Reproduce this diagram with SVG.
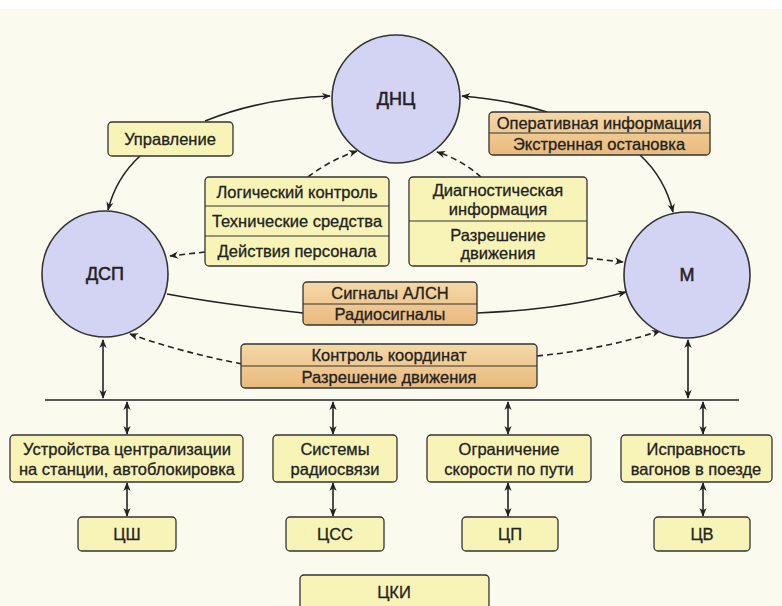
<svg xmlns="http://www.w3.org/2000/svg" width="782" height="606" viewBox="0 0 782 606">
<defs>
<marker id="ah" viewBox="0 0 10 10" refX="9" refY="5" markerWidth="10" markerHeight="9" orient="auto-start-reverse" markerUnits="userSpaceOnUse"><path d="M0,1 L10,5 L0,9 L3,5 Z" fill="#222"/></marker>
<linearGradient id="og" x1="0" y1="0" x2="0" y2="1"><stop offset="0" stop-color="#f5d9a8"/><stop offset="1" stop-color="#e9b97c"/></linearGradient>
</defs>
<style>
.bg{fill:#fbfaee}
.node{fill:#d3d3f3;stroke:#333;stroke-width:1.6}
.yb{fill:#f8f4b8;stroke:#333;stroke-width:1.3}
.ob{fill:url(#og);stroke:#333;stroke-width:1.3}
.sep{stroke:#333;stroke-width:1.2}
.t{font-family:"Liberation Sans",Arial,sans-serif;font-size:16.5px;fill:#222;stroke:#222;stroke-width:0.3;text-anchor:middle}
.n{font-family:"Liberation Sans",Arial,sans-serif;font-size:18px;fill:#222;stroke:#222;stroke-width:0.5;text-anchor:middle}
.c{fill:none;stroke:#222;stroke-width:1.6}
.d{fill:none;stroke:#222;stroke-width:1.6;stroke-dasharray:6 4}
.e{marker-end:url(#ah)}
.b{marker-start:url(#ah);marker-end:url(#ah)}
</style>
<rect class="bg" x="0" y="0" width="782" height="606"/>
<rect x="0" y="0" width="782" height="9" fill="#ffffff"/>

<g id="connectors">
<path class="c e" d="M205,121 Q262,98 330,96"/>
<path class="c e" d="M140,156 Q116,178 108,210"/>
<path class="d e" d="M308,177 Q330,160 357,151"/>
<path class="d e" d="M205,252 L170,256"/>
<path class="c e" d="M547,112 Q510,100 462,96"/>
<path class="c e" d="M640,155 Q665,178 673,212"/>
<path class="d e" d="M481,177 Q462,160 437,152"/>
<path class="d e" d="M587,258 L623,262"/>
<path class="c" d="M167,294 Q220,304 303,313"/>
<path class="c e" d="M477,313 Q560,310 626,292"/>
<path class="d e" d="M242,364 Q180,352 130,334"/>
<path class="d e" d="M537,356 Q600,350 660,331"/>
<path class="c" d="M45,400 L739,400" stroke-width="2"/>
<path class="c b" d="M103,340 L103,398"/>
<path class="c b" d="M688,340 L688,398"/>
<path class="c b" d="M127,402 L127,434"/>
<path class="c b" d="M333,402 L333,434"/>
<path class="c b" d="M508,402 L508,434"/>
<path class="c b" d="M703,402 L703,434"/>
<path class="c b" d="M127,483 L127,516"/>
<path class="c b" d="M333,483 L333,516"/>
<path class="c b" d="M508,483 L508,516"/>
<path class="c b" d="M703,483 L703,516"/>
</g>

<g id="dnc"><circle class="node" cx="396" cy="99" r="64"/><text class="n" x="396" y="105">ДНЦ</text></g>
<g id="dsp"><circle class="node" cx="105" cy="274" r="63"/><text class="n" x="105" y="280">ДСП</text></g>
<g id="m"><circle class="node" cx="687" cy="275" r="63"/><text class="n" x="687" y="281">М</text></g>

<g id="upravlenie"><rect class="yb" x="108" y="122" width="125" height="34" rx="4"/><text class="t" x="170" y="145">Управление</text></g>

<g id="logic"><rect class="yb" x="205" y="177" width="184" height="89" rx="4"/>
<line class="sep" x1="205" y1="206" x2="389" y2="206"/><line class="sep" x1="205" y1="236" x2="389" y2="236"/>
<text class="t" x="297" y="198">Логический контроль</text>
<text class="t" x="297" y="227">Технические средства</text>
<text class="t" x="297" y="257">Действия персонала</text></g>

<g id="operativ"><rect class="ob" x="489" y="112" width="221" height="43" rx="4"/>
<line class="sep" x1="489" y1="133" x2="710" y2="133"/>
<text class="t" x="599" y="129">Оперативная информация</text>
<text class="t" x="599" y="150">Экстренная остановка</text></g>

<g id="diag"><rect class="yb" x="409" y="177" width="178" height="89" rx="4"/>
<line class="sep" x1="409" y1="221" x2="587" y2="221"/>
<text class="t" x="498" y="196">Диагностическая</text>
<text class="t" x="498" y="215">информация</text>
<text class="t" x="498" y="241">Разрешение</text>
<text class="t" x="498" y="259">движения</text></g>

<g id="signals"><rect class="ob" x="303" y="282" width="174" height="43" rx="4"/>
<line class="sep" x1="303" y1="304" x2="477" y2="304"/>
<text class="t" x="390" y="299">Сигналы АЛСН</text>
<text class="t" x="390" y="320">Радиосигналы</text></g>

<g id="kontrol"><rect class="ob" x="241" y="344" width="296" height="44" rx="4"/>
<line class="sep" x1="241" y1="366" x2="537" y2="366"/>
<text class="t" x="389" y="361">Контроль координат</text>
<text class="t" x="389" y="383">Разрешение движения</text></g>

<g id="ustr"><rect class="yb" x="10" y="435" width="233" height="47" rx="4"/>
<text class="t" x="127" y="455">Устройства централизации</text>
<text class="t" x="127" y="475">на станции, автоблокировка</text></g>
<g id="radio"><rect class="yb" x="273" y="435" width="124" height="47" rx="4"/>
<text class="t" x="335" y="455">Системы</text>
<text class="t" x="335" y="475">радиосвязи</text></g>
<g id="ogr"><rect class="yb" x="427" y="435" width="164" height="47" rx="4"/>
<text class="t" x="509" y="455">Ограничение</text>
<text class="t" x="509" y="475">скорости по пути</text></g>
<g id="ispr"><rect class="yb" x="621" y="435" width="151" height="47" rx="4"/>
<text class="t" x="696" y="455">Исправность</text>
<text class="t" x="696" y="475">вагонов в поезде</text></g>

<g id="csh"><rect class="yb" x="78" y="517" width="98" height="34" rx="4"/><text class="t" x="127" y="540">ЦШ</text></g>
<g id="css"><rect class="yb" x="286" y="517" width="98" height="34" rx="4"/><text class="t" x="335" y="540">ЦСС</text></g>
<g id="cp"><rect class="yb" x="462" y="517" width="96" height="34" rx="4"/><text class="t" x="510" y="540">ЦП</text></g>
<g id="cv"><rect class="yb" x="654" y="517" width="96" height="34" rx="4"/><text class="t" x="702" y="540">ЦВ</text></g>
<g id="cki"><rect class="yb" x="300" y="575" width="189" height="40" rx="4"/><text class="t" x="394" y="598">ЦКИ</text></g>
</svg>
